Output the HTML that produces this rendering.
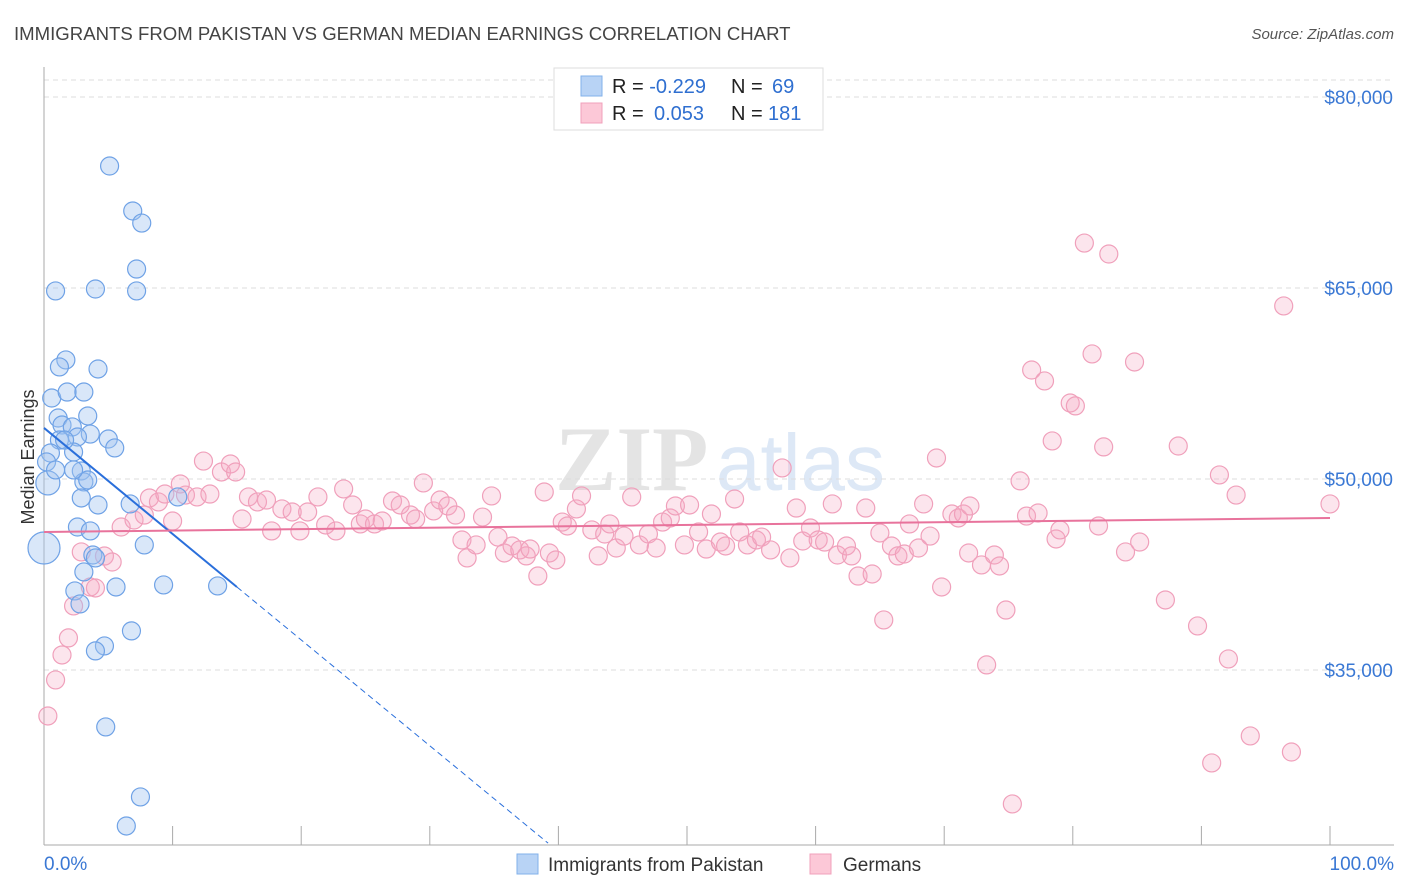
<!DOCTYPE html>
<html><head><meta charset="utf-8"><style>
body{margin:0;background:#fff;font-family:"Liberation Sans",sans-serif;}
svg{display:block}
</style></head><body>
<svg id="c" width="1406" height="892">
<text x="14" y="40" font-size="18.6" fill="#444">IMMIGRANTS FROM PAKISTAN VS GERMAN MEDIAN EARNINGS CORRELATION CHART</text>
<text x="1394" y="39" font-size="15" fill="#555" font-style="italic" text-anchor="end">Source: ZipAtlas.com</text>
<g><text x="555" y="490" font-size="92" fill="#e4e4e4" font-family="Liberation Serif,serif" font-weight="bold">ZIP</text><text x="716" y="490" font-size="80" fill="#dde8f6">atlas</text></g>
<text transform="translate(34,457) rotate(-90)" font-size="18" fill="#333" text-anchor="middle">Median Earnings</text>
<g id="grid"></g><g id="pts"></g><g id="lines"></g>
<g>
<rect x="554" y="68" width="269" height="62" fill="#fff" stroke="#ddd"/>
<rect x="581" y="76" width="21" height="20" fill="#b8d3f5" stroke="#82b0ea"/>
<rect x="581" y="103" width="21" height="20" fill="#fcc8d7" stroke="#f0a0bb"/>
<text x="612" y="93" font-size="20" fill="#222">R = <tspan fill="#2f6fd0">-0.229</tspan><tspan x="731">N = </tspan><tspan x="772" fill="#2f6fd0">69</tspan></text>
<text x="612" y="120" font-size="20" fill="#222">R = <tspan x="654" fill="#2f6fd0">0.053</tspan><tspan x="731">N = </tspan><tspan x="768" fill="#2f6fd0">181</tspan></text>
</g>
<g>
<rect x="517" y="854" width="21" height="20" fill="#b8d3f5" stroke="#82b0ea"/>
<text x="548" y="871" font-size="19" fill="#333">Immigrants from Pakistan</text>
<rect x="810" y="854" width="21" height="20" fill="#fcc8d7" stroke="#f0a0bb"/>
<text x="843" y="871" font-size="19" fill="#333">Germans</text>
</g>
<text x="44" y="870" font-size="19" fill="#3a78d4">0.0%</text>
<text x="1394" y="870" font-size="19" fill="#3a78d4" text-anchor="end">100.0%</text>
</svg>
<script>
const yTicks=[35000,50000,65000,80000];
const yTickLabels=["$35,000","$50,000","$65,000","$80,000"];
const xTicks=[0,10,20,30,40,50,60,70,80,90,100];
const blueX=[5.1,6.9,7.6,7.2,0.9,4.0,7.2,1.7,1.2,4.2,0.6,1.8,3.1,1.1,3.4,1.4,2.2,3.6,2.6,1.2,5.0,5.5,0.5,2.3,0.3,2.9,3.1,3.4,2.9,4.2,2.6,3.6,0,7.8,3.8,4.0,3.1,5.6,9.3,13.5,2.4,2.8,6.8,4.7,4.0,4.8,7.5,6.4,10.4,6.7,0.2,0.9,1.6,2.3];
const blueY=[74580,71050,70100,66490,64770,64920,64770,59350,58800,58640,56360,56830,56830,54790,54950,54240,54090,53530,53300,53060,53140,52440,52040,52120,49690,50630,49770,49920,48510,47960,46230,45920,44580,44820,44030,43800,42700,41520,41680,41600,41210,40190,38070,36890,36500,30530,25030,22750,48590,48040,51340,50710,53060,50710];
const blueR=[9,9,9,9,9,9,9,9,9,9,9,9,9,9,9,9,9,9,9,9,9,9,9,9,12,9,9,9,9,9,9,9,16,9,9,9,9,9,9,9,9,9,9,9,9,9,9,9,9,9,9,9,9,9];
const pinkX=[0.3,0.9,1.4,1.9,2.3,2.9,3.6,4.0,4.7,5.3,6.0,7.0,7.8,8.2,8.9,9.4,10.0,10.6,11.0,11.9,12.4,12.9,13.8,14.5,14.9,15.4,15.9,16.6,17.3,17.7,18.5,19.3,19.9,20.5,21.3,21.9,22.7,23.3,24.0,24.6,25.0,25.7,26.3,27.1,27.7,28.5,28.9,29.5,30.3,30.8,31.4,32.0,32.5,32.9,33.6,34.1,34.8,35.3,35.8,36.4,37.0,37.5,37.8,38.4,38.9,39.3,39.8,40.3,40.7,41.4,41.8,42.6,43.1,43.6,44.0,44.5,45.1,45.7,46.3,47.0,47.6,48.1,48.7,49.1,49.8,50.2,50.9,51.5,51.9,52.6,53.0,53.7,54.1,54.7,55.4,55.8,56.5,57.4,58.0,58.5,59.0,59.6,60.2,60.7,61.3,61.7,62.4,62.8,63.3,63.9,64.4,65.0,65.3,65.9,66.4,66.9,67.3,68.0,68.4,68.9,69.4,69.8,70.6,71.1,71.5,72.0,71.9,72.9,73.3,73.9,74.3,74.8,75.3,75.9,76.4,76.8,77.3,77.8,78.4,78.7,79.0,79.8,80.2,80.9,81.5,82.0,82.4,82.8,84.1,84.8,85.2,87.2,88.2,89.7,90.8,91.4,92.1,92.7,93.8,96.4,97.0,100];
const pinkY=[31390,34220,36180,37520,40030,44270,41520,41440,43950,43480,46230,46780,47170,48510,48200,48820,46700,49610,48740,48590,51410,48820,50550,51180,50550,46860,48590,48200,48350,45920,47650,47410,45920,47410,48590,46390,45920,49220,47960,46470,46860,46470,46700,48270,47960,47170,46860,49690,47490,48350,47880,47170,45210,43800,44820,47010,48670,45440,44190,44740,44430,43960,44500,42380,48980,44190,43640,46620,46310,47650,48670,46000,43960,45680,46470,44580,45520,48590,44820,45680,44580,46620,46940,47880,44820,47960,45840,44500,47250,45050,44740,48430,45840,44820,45210,45440,44430,50870,43800,47720,45130,46150,45210,45050,48040,44030,44740,43960,42380,47720,42540,45760,38930,44740,43960,44110,46470,44580,48040,45520,51650,41520,47250,46940,47250,47880,44190,43250,35400,44030,43170,39710,24480,49850,47090,58560,47330,57700,52990,45290,46000,55970,55740,68530,59820,46310,52520,67670,44270,59190,45050,40500,52590,38460,27700,50320,35870,48740,29820,63590,28560,48040];
const blueTrend=[[0,54010],[15,41520],[39.2,21400]];
const pinkTrend=[[0,45840],[100,46940]];
const X=p=>44+p*12.86, Y=v=>97+(80000-v)*191/15000;
const NS="http://www.w3.org/2000/svg";
function mk(t,a,parent){const e=document.createElementNS(NS,t);for(const k in a)e.setAttribute(k,a[k]);parent.appendChild(e);return e;}
const grid=document.getElementById('grid'),pts=document.getElementById('pts'),lines=document.getElementById('lines');
let g=mk('line',{x1:44,x2:1394,y1:80,y2:80,stroke:'#ddd','stroke-dasharray':'5,4'},grid);


yTicks.forEach((v,i)=>{
 const l=mk('line',{x1:44,x2:1394,y1:Y(v),y2:Y(v),stroke:'#ddd','stroke-dasharray':'5,4'},grid);
 
 
 const t=mk('text',{x:1393,y:Y(v)+7,'font-size':19,fill:'#3a78d4','text-anchor':'end'},grid);
 t.textContent=yTickLabels[i];
 
 
});
let ax=mk('line',{x1:44,x2:44,y1:67,y2:845,stroke:'#aaa'},grid);


let bx=mk('line',{x1:44,x2:1394,y1:845,y2:845,stroke:'#aaa'},grid);


xTicks.forEach(p=>{const t=mk('line',{x1:X(p),x2:X(p),y1:826,y2:845,stroke:'#aaa'},grid);
 
 });
pinkX.forEach((p,i)=>{const c=mk('circle',{cx:X(p),cy:Y(pinkY[i]),r:9,fill:'rgba(246,170,196,0.3)',stroke:'#f0a0bb','stroke-width':1.2},pts);
 
 });
blueX.forEach((p,i)=>{const c=mk('circle',{cx:X(p),cy:Y(blueY[i]),r:blueR[i],fill:'rgba(160,196,240,0.4)',stroke:'#6fa2e6','stroke-width':1.2},pts);
 
 });
let b1=mk('line',{x1:X(blueTrend[0][0]),y1:Y(blueTrend[0][1]),x2:X(blueTrend[1][0]),y2:Y(blueTrend[1][1]),stroke:'#2a6fdb','stroke-width':2},lines);


let b2=mk('line',{x1:X(blueTrend[1][0]),y1:Y(blueTrend[1][1]),x2:X(blueTrend[2][0]),y2:Y(blueTrend[2][1]),stroke:'#2a6fdb','stroke-width':1,'stroke-dasharray':'6,4'},lines);


let p1=mk('line',{x1:X(pinkTrend[0][0]),y1:Y(pinkTrend[0][1]),x2:X(pinkTrend[1][0]),y2:Y(pinkTrend[1][1]),stroke:'#e8739c','stroke-width':2},lines);


</script>
</body></html>
